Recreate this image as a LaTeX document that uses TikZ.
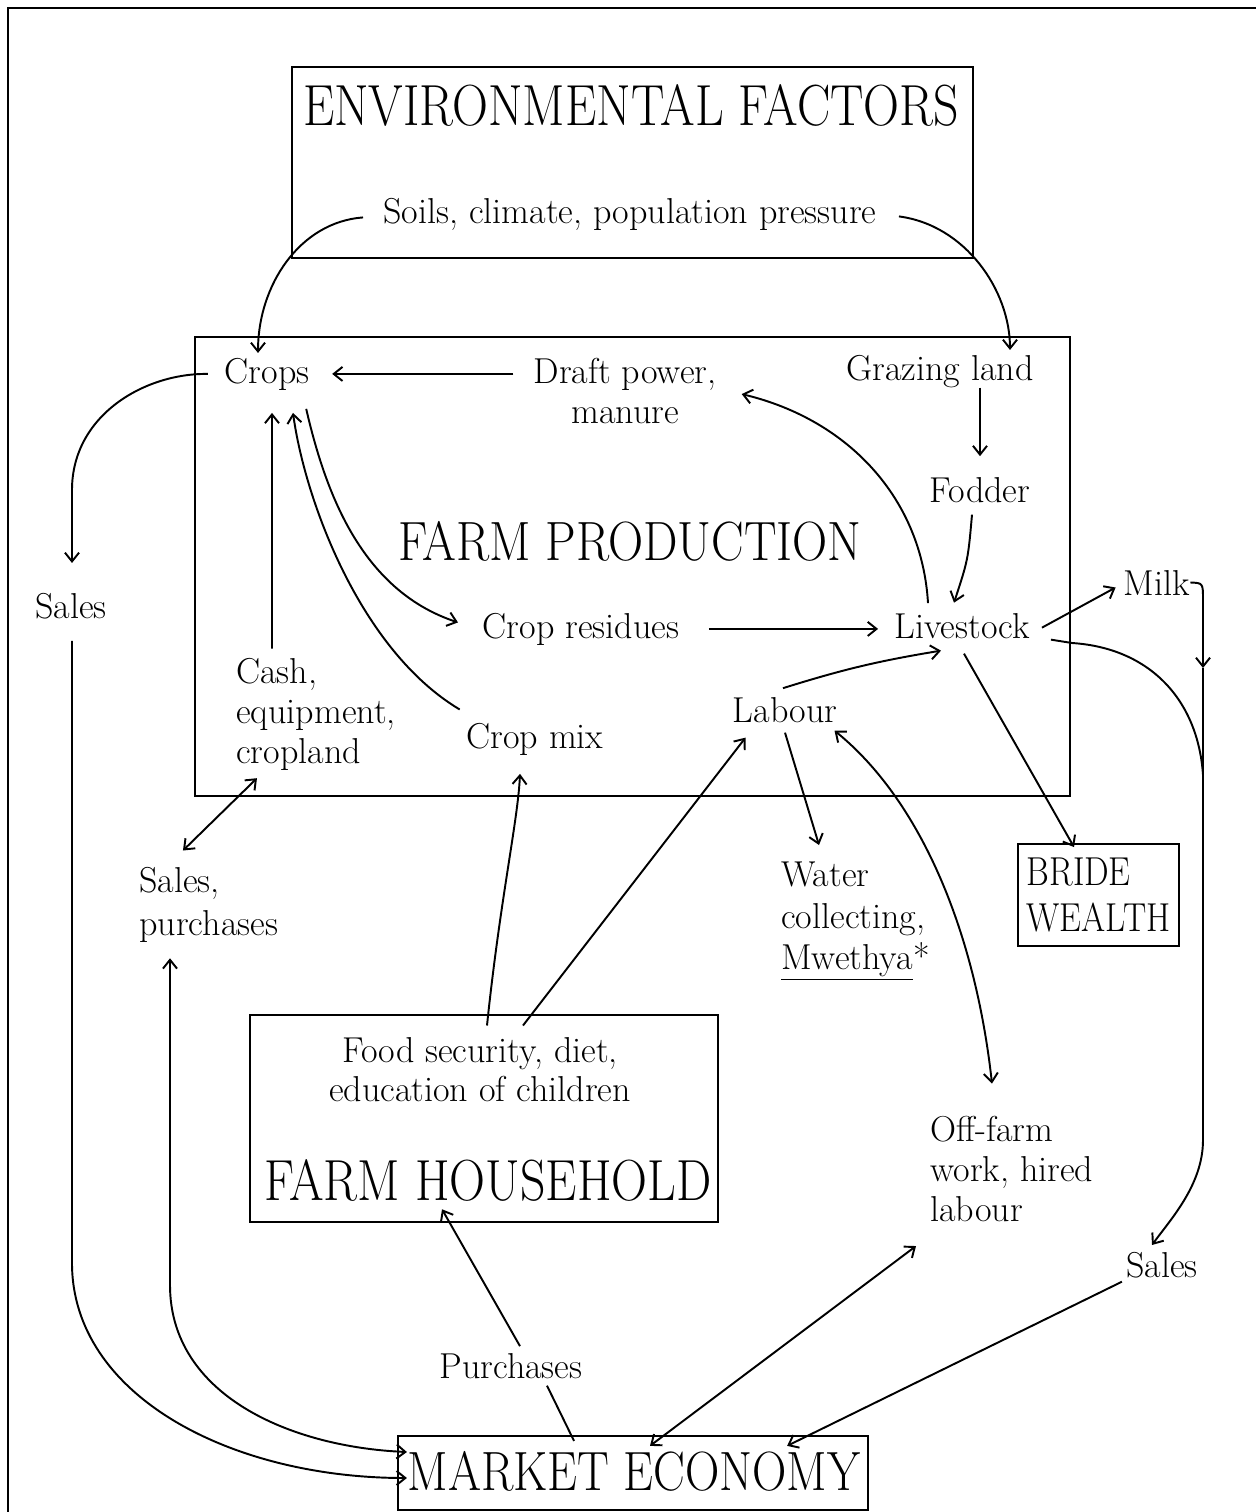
\documentclass[tikz,border=0pt]{standalone}
\usepackage{graphicx}
\usetikzlibrary{arrows.meta}
\newcommand\cnd[2][0.86]{\scalebox{#1}[1]{#2}}
\begin{document}
\begin{tikzpicture}[x=0.02cm,y=-0.02cm,
  lab/.style={inner sep=0pt, font=\fontsize{20.5}{22.7}\selectfont},
  box/.style={draw, line width=1.3pt, inner sep=0pt},
  con/.style={line width=1.1pt},
  arr/.style={con, -{Straight Barb[length=5pt,width=8pt]}},
  darr/.style={con, {Straight Barb[length=5pt,width=8pt]}-{Straight Barb[length=5pt,width=8pt]}},
]
\useasboundingbox (0,0) rectangle (1256,1512);
\draw[line width=0.8pt] (8,1512) -- (8,8) -- (1256,8);

% boxes
\node[box, minimum width=13.62cm, minimum height=3.82cm] (envbox) at (632.5,162.5) {};
\node[box, minimum width=17.5cm, minimum height=9.18cm] (farmbox) at (632.5,566.5) {};
\node[box, minimum width=9.36cm, minimum height=4.14cm] (hhbox) at (484,1118.5) {};
\node[box, minimum width=9.4cm, minimum height=1.48cm] (market) at (633,1473) {};
\node[box, line width=1.1pt, align=left, inner xsep=0.18cm, inner ysep=0.28cm,
      font=\fontsize{23}{26}\selectfont] (bride) at (1098.5,895) {\cnd{BRIDE}\\\cnd{WEALTH}};

% titles
\node[lab, anchor=base, font=\fontsize{33}{40}\selectfont] (envt) at (631,125) {\cnd{ENVIRONMENTAL FACTORS}};
\node[lab, anchor=base, font=\fontsize{31.5}{38}\selectfont] (farmt) at (630,560) {\cnd[0.88]{FARM PRODUCTION}};
\node[lab, anchor=base, font=\fontsize{33}{40}\selectfont] (hht) at (488,1200) {\cnd{FARM HOUSEHOLD}};
\node[lab, anchor=base, font=\fontsize{31.5}{38}\selectfont] (markett) at (634,1490) {\cnd{MARKET ECONOMY}};

% labels
\node[lab, anchor=base] (soils) at (630,223) {Soils, climate, population pressure};
\node[lab, anchor=base] (crops) at (267,383) {Crops};
\node[lab, align=center, anchor=north] (draft) at (625,358) {Draft power,\\manure};
\node[lab, anchor=base] (graz) at (940,380) {Grazing land};
\node[lab, anchor=base] (fodder) at (980,502) {Fodder};
\node[lab, anchor=base] (resid) at (581,638) {Crop residues};
\node[lab, anchor=base] (live) at (962,638) {Livestock};
\node[lab, anchor=base] (milk) at (1157,595) {Milk};
\node[lab, align=left, anchor=north west] (cash) at (236,658) {Cash,\\equipment,\\cropland};
\node[lab, anchor=base] (cropmix) at (535,748) {Crop mix};
\node[lab, anchor=base] (labour) at (785,722) {Labour};
\node[lab, align=left, anchor=north west, font=\fontsize{20.5}{23.5}\selectfont] (water) at (781,862) {Water\\collecting,\\\underline{Mwethya}*};
\node[lab, anchor=base] (salesl) at (71,618) {Sales};
\node[lab, align=left, anchor=north west, font=\fontsize{20.5}{24.4}\selectfont] (salespur) at (139,867) {Sales,\\purchases};
\node[lab, align=center, anchor=north, font=\fontsize{20.5}{22}\selectfont] (food) at (480,1037) {Food security, diet,\\education of children};
\node[lab, align=left, anchor=north west] (offfarm) at (930,1116) {Off-farm\\work, hired\\labour};
\node[lab, anchor=base] (sales2) at (1162,1277) {Sales};
\node[lab, anchor=base] (purch) at (511,1378) {Purchases};

\coordinate (mj) at (1203,668);
\coordinate (mj2) at (1203,775);

% connectors
\draw[arr] ([xshift=-0.4cm,yshift=-0.07cm]soils.west) .. controls (300,222) and (258,285) .. ([xshift=-0.18cm,yshift=0.09cm]crops.north);
\draw[arr] ([xshift=0.44cm,yshift=-0.05cm]soils.east) .. controls (965,225) and (1010,290) .. ([xshift=1.4cm,yshift=0.09cm]graz.north);
\draw[arr, shorten <=0.4cm, shorten >=0.45cm] (crops.east -| draft.west) -- (crops.east);
\draw[arr, shorten >=0.41cm] (graz.south -| fodder.north) -- (fodder.north);
\draw[arr] ([xshift=-0.16cm,yshift=-0.24cm]fodder.south) .. controls (968,560) .. ([xshift=-0.16cm,yshift=0.2cm]live.north);
\draw[arr] ([xshift=-0.68cm,yshift=0.19cm]live.north) .. controls (922,500) and (850,420) .. ([xshift=0.5cm,yshift=-0.06cm]draft.east);
\draw[arr] ([xshift=-0.07cm,yshift=-0.37cm]crops.south east) .. controls (325,490) and (360,590) .. ([xshift=-0.49cm,yshift=0.13cm]resid.west);
\draw[arr] ([xshift=-0.13cm,yshift=0.26cm]cropmix.north west) .. controls (360,650) and (305,500) .. ([xshift=0.52cm,yshift=-0.45cm]crops.south);
\draw[arr] ([xshift=0.72cm,yshift=0.19cm]cash.north west) -- ([xshift=0.1cm,yshift=-0.45cm]crops.south);
\draw[arr, shorten <=0.59cm, shorten >=0.32cm] (resid.east) -- (resid.east -| live.west);
\draw[arr] ([xshift=0.24cm,yshift=-0.04cm]live.east) -- ([xshift=-0.16cm,yshift=-0.1cm]milk.west);
\draw[arr] (milk.east) .. controls (1203,583) .. (1203,600) -- (mj);
\draw[arr] (mj) -- (1203,1140) .. controls (1203,1185) and (1170,1220) .. ([xshift=-0.2cm,yshift=0.13cm]sales2.north);
\draw[con] ([xshift=0.42cm,yshift=-0.28cm]live.east) -- (1072,643) .. controls (1150,648) and (1198,700) .. (mj2);
\draw[arr] ([xshift=0.04cm,yshift=-0.3cm]live.south) -- ([xshift=-0.49cm,yshift=-0.08cm]bride.north);
\draw[arr] ([xshift=-0.04cm,yshift=0.17cm]labour.north) to[bend left=4] ([xshift=-0.42cm,yshift=-0.24cm]live.south);
\draw[arr] ([yshift=-0.2cm]labour.south) -- ([xshift=0.76cm,yshift=0.34cm]water.north west);
\draw[darr] ([xshift=1.24cm,yshift=0.65cm]offfarm.north west) .. controls (975,930) and (920,800) .. ([xshift=-0.06cm,yshift=-0.16cm]labour.south east);
\draw[arr] ([xshift=0.14cm,yshift=0.23cm]food.north) .. controls (500,900) and (518,820) .. ([xshift=-0.3cm,yshift=-0.37cm]cropmix.south);
\draw[arr] ([xshift=0.86cm,yshift=0.23cm]food.north) -- ([xshift=0.26cm,yshift=-0.3cm]labour.south west);
\draw[darr] ([xshift=0.42cm,yshift=-0.15cm]cash.south west) -- ([xshift=0.88cm,yshift=0.33cm]salespur.north west);
\draw[arr] ([xshift=-0.33cm]crops.west) .. controls (145,373) and (72,415) .. (72,490) -- ([xshift=0.02cm,yshift=0.59cm]salesl.north);
\draw[arr] ([xshift=0.02cm,yshift=-0.44cm]salesl.south) -- (72,1263) .. controls (72,1395) and (230,1478) .. ([xshift=0.2cm,yshift=-0.1cm]market.west);
\draw[darr] ([xshift=0.62cm,yshift=-0.31cm]salespur.south west) -- (170,1285) .. controls (170,1395) and (290,1447) .. ([xshift=0.2cm,yshift=0.42cm]market.west);
\draw[con] ([xshift=-1.18cm,yshift=-0.12cm]market.north) -- ([xshift=0.72cm,yshift=-0.14cm]purch.south);
\draw[arr] ([xshift=0.18cm,yshift=0.13cm]purch.north) -- ([xshift=-0.92cm,yshift=-0.16cm]hht.south);
\draw[darr] ([xshift=0.34cm,yshift=-0.22cm]market.north) -- ([xshift=-0.28cm,yshift=-0.48cm]offfarm.south west);
\draw[arr] ([xshift=-0.08cm,yshift=-0.34cm]sales2.west) -- ([xshift=-1.64cm,yshift=-0.22cm]market.north east);
\end{tikzpicture}
\end{document}
